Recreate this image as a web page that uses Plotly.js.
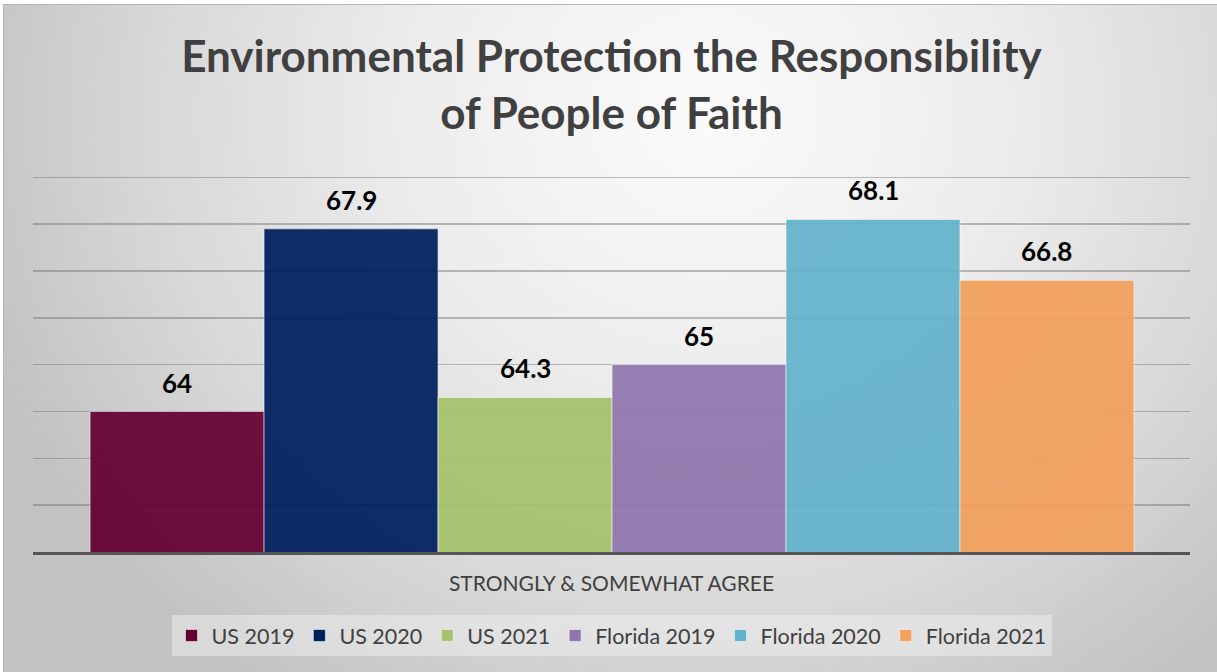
<!DOCTYPE html>
<html><head><meta charset="utf-8">
<script src="https://cdn.plot.ly/plotly-3.0.1.min.js"></script>
<style>
html,body{margin:0;padding:0;background:#fff;width:1217px;height:672px;overflow:hidden}
#bg{position:absolute;left:3px;top:4px;width:1214px;height:668px;border-top:1px solid #b4b4b4;border-left:1px solid #b4b4b4;
background:radial-gradient(ellipse 760px 700px at 700px 110px,#fbfbfb 0%,#ececec 40%,#d6d6d6 75%,#c2c2c2 100%)}
#chart{position:absolute;left:0;top:0;width:1217px;height:672px}
</style></head>
<body>
<div id="bg"></div>
<div id="chart"></div>
<script>
const categories = ["US 2019", "US 2020", "US 2021", "Florida 2019", "Florida 2020", "Florida 2021"];
const values = [64, 67.9, 64.3, 65, 68.1, 66.8];
const colors = ["#640031", "#001f5e", "#a6c26e", "#8f76ad", "#63b2cc", "#f2a05c"];
const axisLabel = "STRONGLY & SOMEWHAT AGREE";
const titleText = "Environmental Protection the Responsibility<br>of People of Faith";

const FONT = "Lato, 'Open Sans', sans-serif";

const traces = categories.map((c, i) => ({
  type: "bar",
  name: c,
  x: [c],
  y: [values[i]],
  width: 1,
  marker: {color: colors[i], opacity: 0.93, line: {color: "rgba(255,255,255,0.55)", width: 1}},
  hoverinfo: "name+y"
}));

const annotations = categories.map((c, i) => ({
  x: c, y: values[i], xref: "x", yref: "y",
  text: "<b>" + values[i] + "</b>",
  showarrow: false, yanchor: "bottom", yshift: 11,
  font: {family: FONT, size: 26, color: "#000"}
}));

const layout = {
  width: 1217, height: 672,
  margin: {l: 33, r: 27, t: 175, b: 120, pad: 0},
  paper_bgcolor: "rgba(0,0,0,0)",
  plot_bgcolor: "rgba(0,0,0,0)",
  barmode: "overlay",
  title: {text: "<b>" + titleText + "</b>", font: {family: FONT, size: 44, color: "#404040"},
          x: 0.5, xref: "paper", xanchor: "center", y: 0.8925, yref: "container", yanchor: "top"},
  xaxis: {type: "category", range: [-0.828, 5.822], showticklabels: false, ticks: "",
          showline: true, linecolor: "#555555", linewidth: 3, showgrid: false, zeroline: false,
          fixedrange: true,
          title: {text: axisLabel, font: {family: FONT, size: 21, color: "#404040"}, standoff: 23}},
  yaxis: {range: [61, 69.05], dtick: 1, showticklabels: false, ticks: "", showline: false,
          zeroline: false, gridcolor: "rgba(110,110,110,0.45)", gridwidth: 1.5, fixedrange: true},
  showlegend: true,
  legend: {orientation: "h", x: 0.5, xanchor: "center", y: -0.167, yanchor: "top",
           bgcolor: "rgba(240,240,240,0.5)", font: {family: FONT, size: 21.5, color: "#404040"},
           itemclick: false, itemdoubleclick: false},
  annotations: annotations
};

Plotly.newPlot("chart", traces, layout, {displayModeBar: false, staticPlot: true});
</script>
</body></html>
